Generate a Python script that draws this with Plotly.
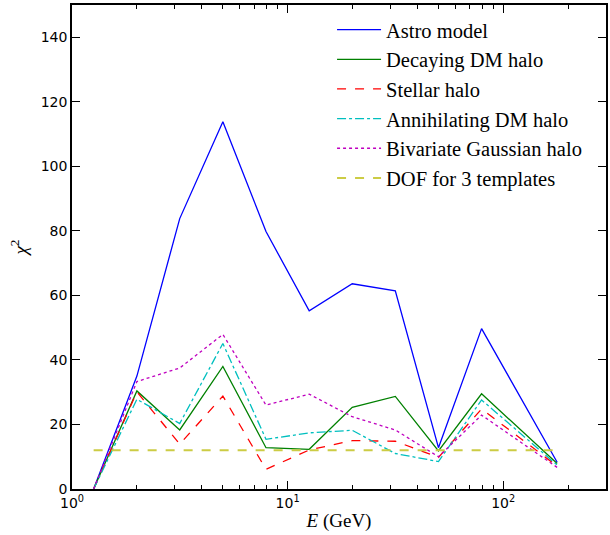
import plotly.graph_objects as go

energy = [1.26, 2.0, 3.16, 5.01, 7.94, 12.6, 19.95, 31.6, 50.1, 79.4, 178]
astro = [0, 35.0, 83.8, 113.8, 79.8, 55.2, 63.6, 61.4, 12.8, 49.7, 8.3]
decaying = [0, 30.4, 18.3, 38.0, 12.8, 12.3, 25.3, 28.7, 11.8, 29.5, 7.9]
stellar = [0, 30.1, 13.9, 28.8, 6.1, 12.1, 15.0, 14.8, 9.8, 24.8, 7.1]
annihilating = [0, 27.8, 20.3, 45.1, 15.4, 17.4, 18.2, 11.0, 8.5, 27.6, 7.4]
bivariate = [0, 33.3, 37.5, 47.9, 26.0, 29.4, 22.4, 18.3, 10.0, 22.9, 6.7]
dof_x = [1.26, 178]
dof_y = [12, 12]

series = [
    ("Astro model", astro, "#0000ff", "solid", 1.3),
    ("Decaying DM halo", decaying, "#008000", "solid", 1.3),
    ("Stellar halo", stellar, "#ff0000", "dash", 1.3),
    ("Annihilating DM halo", annihilating, "#00bfbf", "dashdot", 1.3),
    ("Bivariate Gaussian halo", bivariate, "#bf00bf", "dot", 1.3),
]

fig = go.Figure()
for i, (name, ys, col, dash, w) in enumerate(series):
    fig.add_trace(go.Scatter(x=energy, y=ys, mode="lines", name=name, legendgroup=f"g{i}",
                             line=dict(color=col, dash=dash, width=w)))
fig.add_trace(go.Scatter(x=dof_x, y=dof_y, mode="lines", name="DOF for 3 templates", legendgroup="g5",
                         line=dict(color="#cccc44", dash="dash", width=2)))

minor_vals = [m * 10 ** k for k in range(0, 3) for m in range(2, 10)]
serif = "Liberation Serif"
fig.update_layout(
    width=610, height=535,
    margin=dict(l=72, r=2, t=5, b=46),
    plot_bgcolor="white", paper_bgcolor="white",
    showlegend=True,
    legend=dict(x=0.487, y=0.99, xanchor="left", yanchor="top",
                font=dict(family=serif, size=20.5, color="black"),
                traceorder="grouped", tracegroupgap=0, itemwidth=44,
                bgcolor="rgba(0,0,0,0)", borderwidth=0),
    xaxis=dict(type="log", range=[0, 2.477],
               tickvals=[1, 10, 100], ticktext=["10<sup>0</sup>", "10<sup>1</sup>", "10<sup>2</sup>"],
               ticks="inside", ticklen=8, tickcolor="black", tickwidth=1,
               minor=dict(tickvals=minor_vals, ticks="inside", ticklen=4, tickcolor="black"),
               showline=True, linecolor="black", linewidth=1.5, mirror="ticks",
               showgrid=False, zeroline=False,
               tickfont=dict(family="DejaVu Sans", size=14, color="black"),
               title=dict(text="<i>E</i> (GeV)", font=dict(family=serif, size=19, color="black"),
                          standoff=4)),
    yaxis=dict(range=[0, 150], tickvals=[0, 20, 40, 60, 80, 100, 120, 140],
               ticks="inside", ticklen=8, tickcolor="black", tickwidth=1,
               showline=True, linecolor="black", linewidth=1.5, mirror="ticks",
               showgrid=False, zeroline=False,
               tickfont=dict(family="DejaVu Sans", size=14, color="black"),
               title=dict(text="<i>χ</i><sup>2</sup>", font=dict(family=serif, size=19, color="black"),
                          standoff=8)),
)
fig.write_html("out.html")
